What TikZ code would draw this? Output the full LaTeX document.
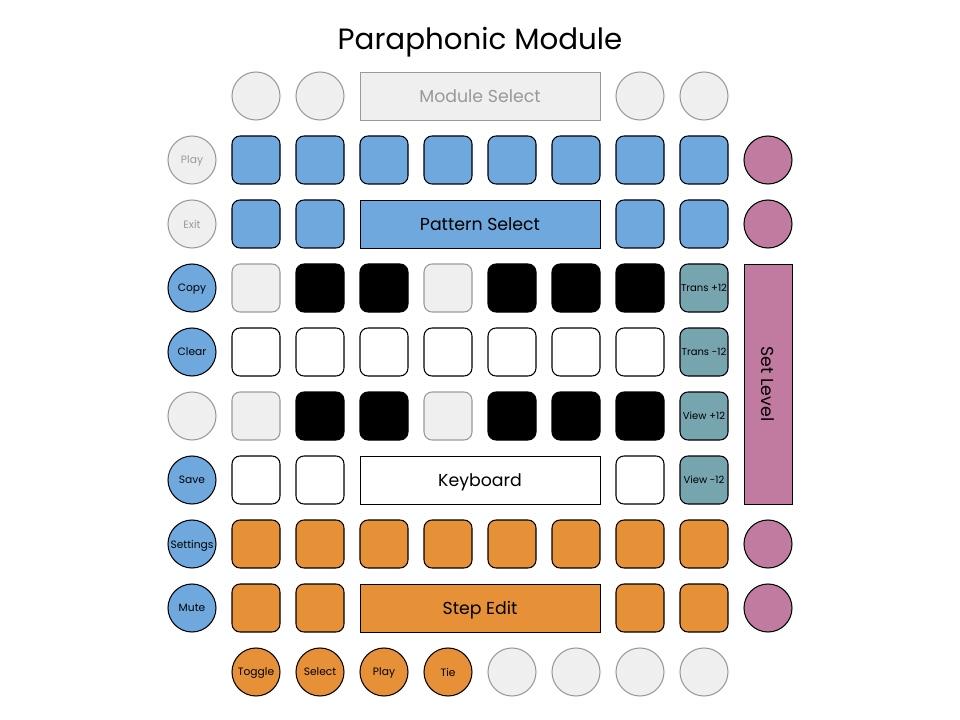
\documentclass[tikz,border=0pt]{standalone}
\usepackage{fontspec}
\setmainfont{Poppins}
\definecolor{cblue}{HTML}{6FA8DC}
\definecolor{corange}{HTML}{E69138}
\definecolor{cpink}{HTML}{C27BA0}
\definecolor{cteal}{HTML}{76A5AF}
\definecolor{clight}{HTML}{EFEFEF}
\definecolor{cgrayline}{HTML}{999999}
\begin{document}
\begin{tikzpicture}[x=0.75pt,y=-0.75pt,
  base/.style={inner sep=0pt, outer sep=0pt, line width=0.8pt, text=black, text depth=0pt, font=\fontsize{8}{9}\selectfont},
  sq/.style={base, draw=black, rectangle, rounded corners=6pt, minimum width=36pt, minimum height=36pt},
  btn/.style={base, draw=black, circle, minimum size=36pt},
  wide/.style={base, draw=black, line width=0.6pt, rectangle, minimum width=180pt, minimum height=36pt, font=\fontsize{13}{15}\selectfont},
  gsq/.style={sq, fill=clight, draw=cgrayline},
  bsq/.style={sq, fill=cblue},
  ksq/.style={sq, fill=black},
  wsq/.style={sq, fill=white},
  osq/.style={sq, fill=corange},
  tsq/.style={sq, fill=cteal, font=\fontsize{7.5}{9}\selectfont},
  gbtn/.style={btn, fill=clight, draw=cgrayline, text=cgrayline},
  bbtn/.style={btn, fill=cblue},
  obtn/.style={btn, fill=corange},
  pbtn/.style={btn, fill=cpink}
]
\useasboundingbox (0,0) rectangle (960,720);
\node[font=\fontsize{22}{26}\selectfont, text depth=0pt] (title) at (480,38) {Paraphonic Module};
% row 0
\node[gbtn] (r0c1) at (256,96) {};
\node[gbtn] (r0c2) at (320,96) {};
\node[wide, fill=clight, draw=cgrayline, text=cgrayline] (modsel) at (480,96) {Module Select};
\node[gbtn] (r0c7) at (640,96) {};
\node[gbtn] (r0c8) at (704,96) {};
% row 1
\node[gbtn] (play) at (192,160) {Play};
\foreach \i in {1,...,8} { \node[bsq] (r1c\i) at ({192+64*\i},160) {}; }
\node[pbtn] (r1c9) at (768,160) {};
% row 2
\node[gbtn] (exit) at (192,224) {Exit};
\node[bsq] (r2c1) at (256,224) {};
\node[bsq] (r2c2) at (320,224) {};
\node[wide, fill=cblue] (patsel) at (480,224) {Pattern Select};
\node[bsq] (r2c7) at (640,224) {};
\node[bsq] (r2c8) at (704,224) {};
\node[pbtn] (r2c9) at (768,224) {};
% row 3
\node[bbtn] (copy) at (192,288) {Copy};
\node[gsq] (r3c1) at (256,288) {};
\node[ksq] (r3c2) at (320,288) {};
\node[ksq] (r3c3) at (384,288) {};
\node[gsq] (r3c4) at (448,288) {};
\node[ksq] (r3c5) at (512,288) {};
\node[ksq] (r3c6) at (576,288) {};
\node[ksq] (r3c7) at (640,288) {};
\node[tsq] (transup) at (704,288) {Trans +12};
% row 4
\node[bbtn] (clear) at (192,352) {Clear};
\foreach \i in {1,...,7} { \node[wsq] (r4c\i) at ({192+64*\i},352) {}; }
\node[tsq] (transdn) at (704,352) {Trans -12};
% row 5
\node[gbtn] (r5c0) at (192,416) {};
\node[gsq] (r5c1) at (256,416) {};
\node[ksq] (r5c2) at (320,416) {};
\node[ksq] (r5c3) at (384,416) {};
\node[gsq] (r5c4) at (448,416) {};
\node[ksq] (r5c5) at (512,416) {};
\node[ksq] (r5c6) at (576,416) {};
\node[ksq] (r5c7) at (640,416) {};
\node[tsq] (viewup) at (704,416) {View +12};
% row 6
\node[bbtn] (save) at (192,480) {Save};
\node[wsq] (r6c1) at (256,480) {};
\node[wsq] (r6c2) at (320,480) {};
\node[wide, fill=white] (keyboard) at (480,480) {Keyboard};
\node[wsq] (r6c7) at (640,480) {};
\node[tsq] (viewdn) at (704,480) {View -12};
% set level
\node[base, draw=black, line width=0.6pt, fill=cpink, minimum width=36pt, minimum height=180pt] (setlevel) at (768,384) {};
\node[font=\fontsize{13}{15}\selectfont, text depth=0pt, rotate=-90] (setleveltxt) at (setlevel.center) {Set Level};
% row 7
\node[bbtn] (settings) at (192,544) {Settings};
\foreach \i in {1,...,8} { \node[osq] (r7c\i) at ({192+64*\i},544) {}; }
\node[pbtn] (r7c9) at (768,544) {};
% row 8
\node[bbtn] (mute) at (192,608) {Mute};
\node[osq] (r8c1) at (256,608) {};
\node[osq] (r8c2) at (320,608) {};
\node[wide, fill=corange] (stepedit) at (480,608) {Step Edit};
\node[osq] (r8c7) at (640,608) {};
\node[osq] (r8c8) at (704,608) {};
\node[pbtn] (r8c9) at (768,608) {};
% row 9
\node[obtn] (toggle) at (256,672) {Toggle};
\node[obtn] (select) at (320,672) {Select};
\node[obtn] (playb) at (384,672) {Play};
\node[obtn] (tie) at (448,672) {Tie};
\node[gbtn] (r9c5) at (512,672) {};
\node[gbtn] (r9c6) at (576,672) {};
\node[gbtn] (r9c7) at (640,672) {};
\node[gbtn] (r9c8) at (704,672) {};
\end{tikzpicture}
\end{document}
